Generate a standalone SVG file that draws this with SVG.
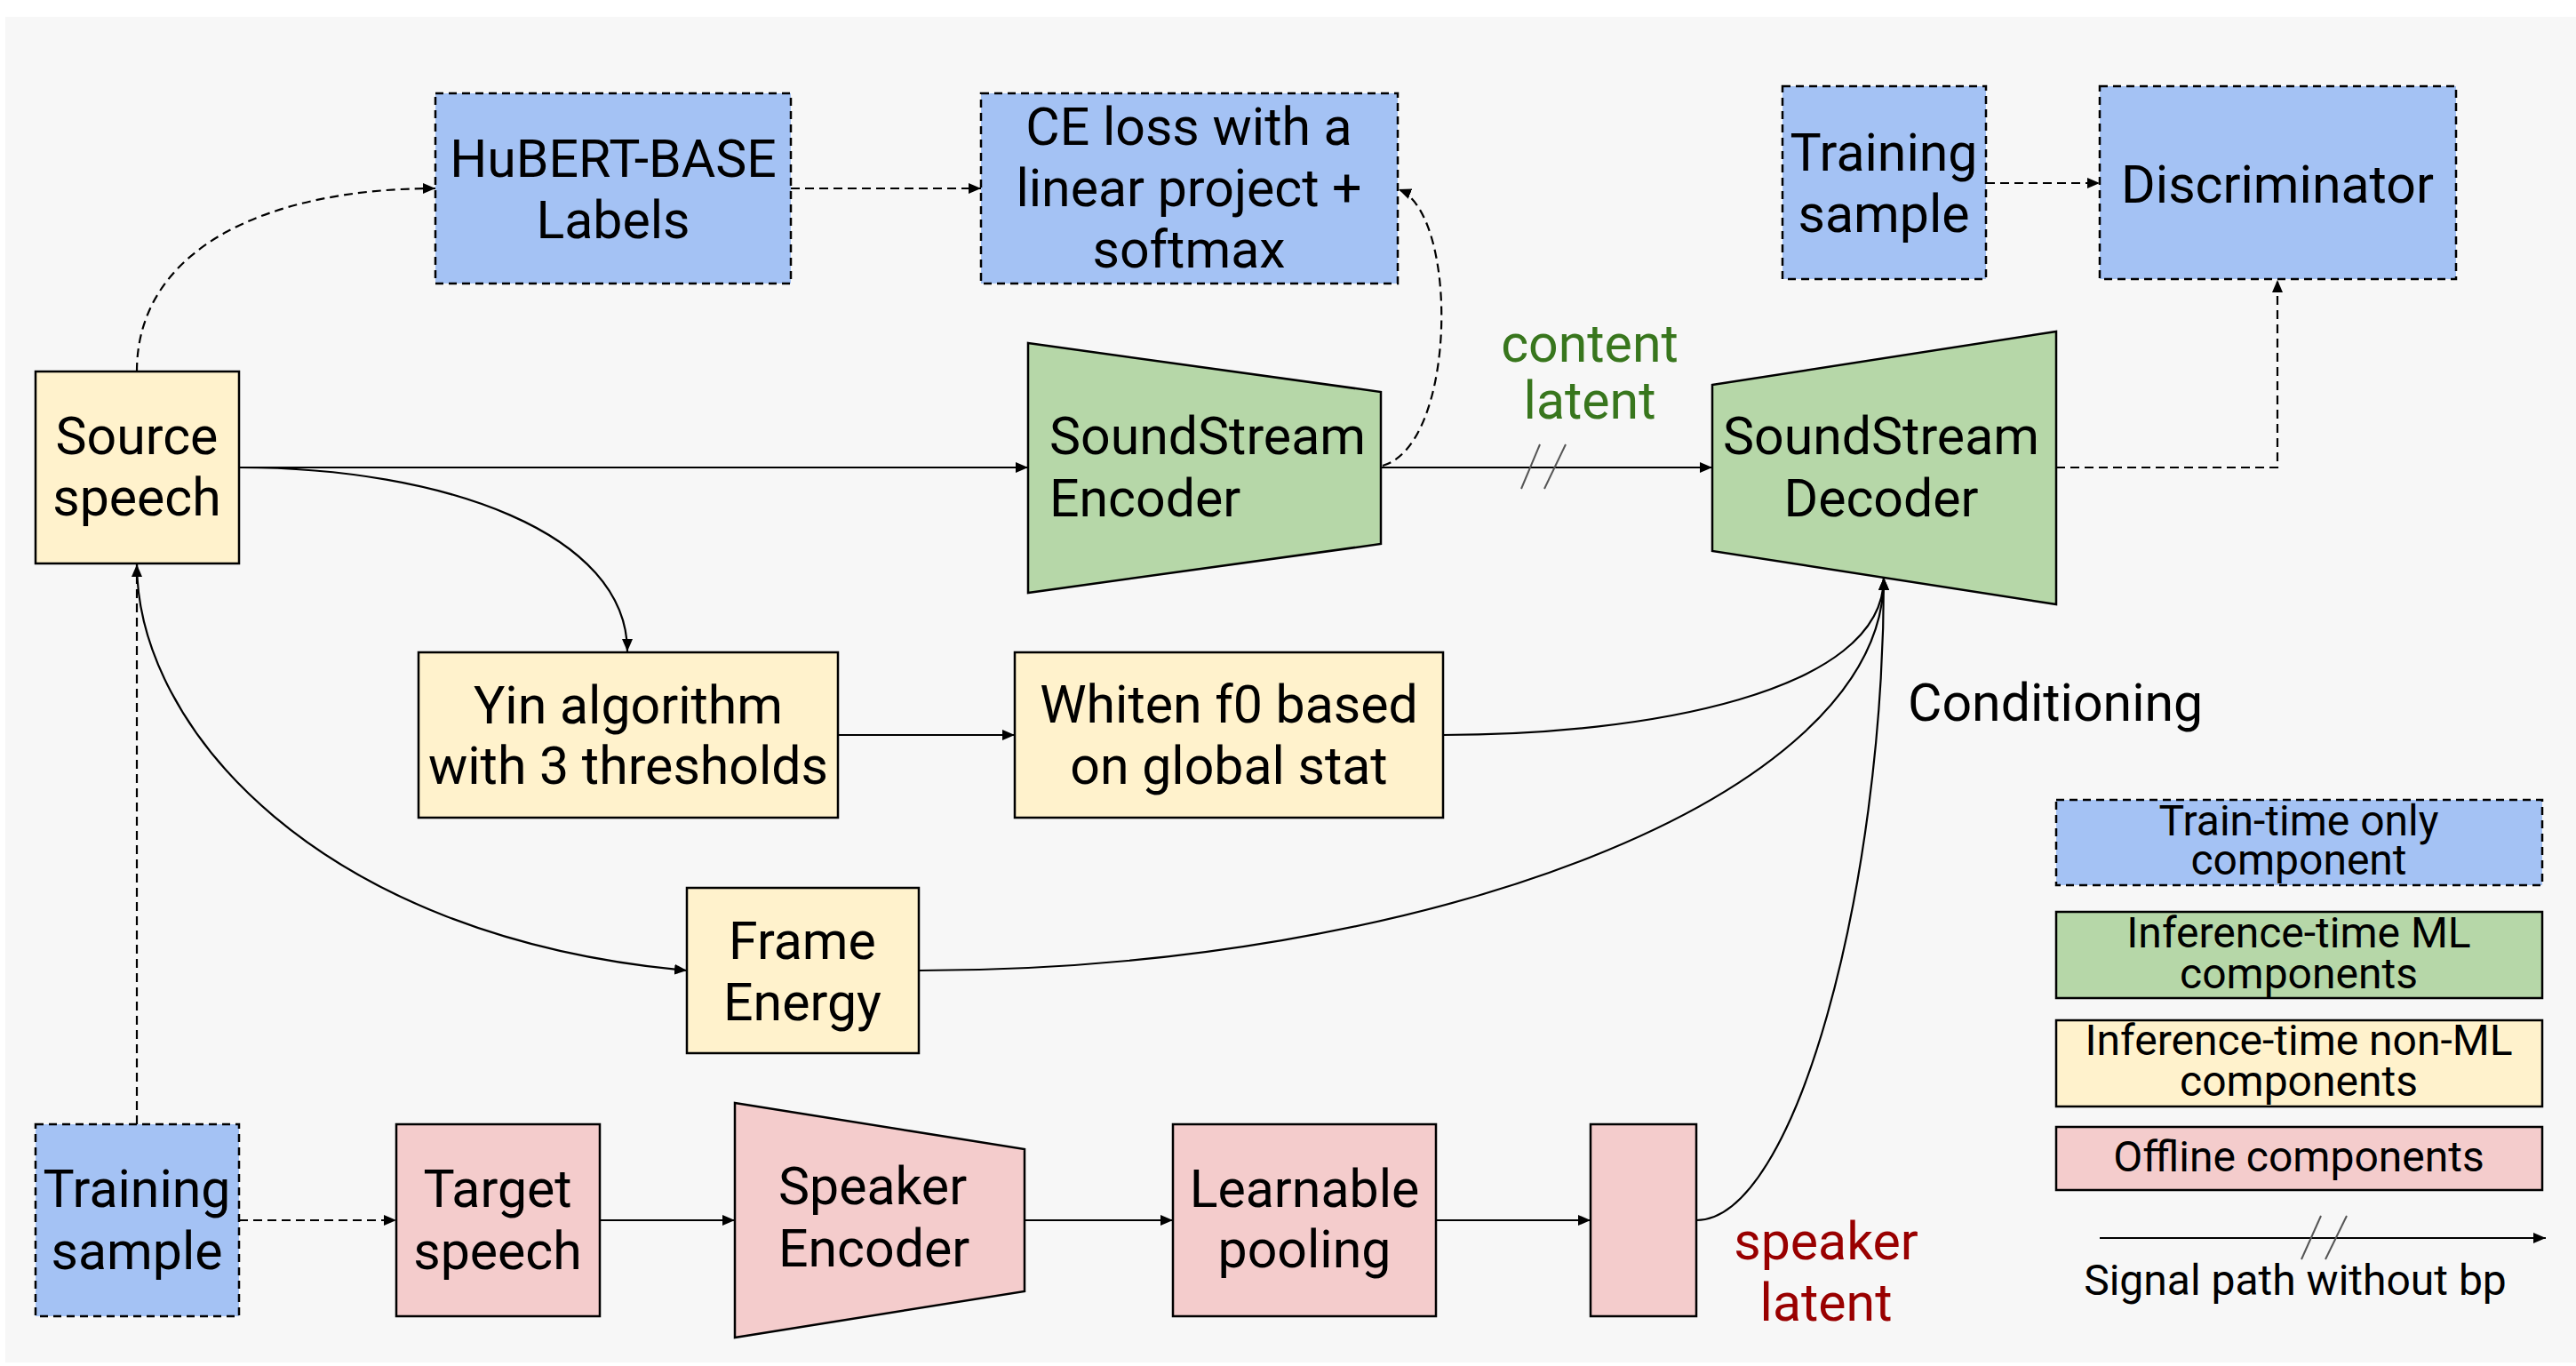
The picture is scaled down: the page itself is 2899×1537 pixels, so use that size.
<svg xmlns="http://www.w3.org/2000/svg" width="2899" height="1537" viewBox="0 0 2899 1537">
<defs>
<marker id="ah" markerUnits="userSpaceOnUse" markerWidth="16" markerHeight="12" refX="14" refY="6" orient="auto">
<path d="M0,0 L14,6 L0,12 z" fill="#000"/>
</marker>
<style>
.bx{stroke:#000;stroke-width:2.5}
.dsh{stroke-dasharray:9 6}
.blue{fill:#a4c2f4}
.green{fill:#b6d7a8}
.yel{fill:#fff2cc}
.pink{fill:#f4cccc}
.t{font-family:Roboto,"Liberation Sans",sans-serif;font-size:59px;fill:#000}
.lg{font-family:Roboto,"Liberation Sans",sans-serif;font-size:48px;fill:#000;text-anchor:middle}
.c{text-anchor:middle}
.ln{fill:none;stroke:#000;stroke-width:2.2}
.dl{fill:none;stroke:#000;stroke-width:2.2;stroke-dasharray:10 6}
.sl{stroke:#555;stroke-width:2}
</style>
</defs>
<rect x="0" y="0" width="2899" height="1537" fill="#fff"/>
<rect x="6" y="19" width="2893" height="1514" fill="#f7f7f7"/>

<g id="connectors">
<path class="ln" d="M269,526 L1157,526" marker-end="url(#ah)"/>
<path class="ln" d="M1554,526 L1927,526" marker-end="url(#ah)"/>
<line class="sl" x1="1712" y1="550" x2="1733" y2="500"/>
<line class="sl" x1="1738" y1="550" x2="1762" y2="500"/>
<path class="dl" d="M154,418 C154,280 300,212 490,212" marker-end="url(#ah)"/>
<path class="dl" d="M890,212 L1104,212" marker-end="url(#ah)"/>
<path class="dl" d="M1556,524 C1640,500 1642,240 1574,213" marker-end="url(#ah)"/>
<path class="dl" d="M2235,206 L2363,206" marker-end="url(#ah)"/>
<path class="dl" d="M2314,526 L2563,526 L2563,315" marker-end="url(#ah)"/>
<path class="ln" d="M269,526 C500,526 706,600 706,733" marker-end="url(#ah)"/>
<path class="ln" d="M943,827 L1142,827" marker-end="url(#ah)"/>
<path class="ln" d="M154,634 C154,820 360,1055 773,1092" marker-end="url(#ah)"/>
<path class="ln" d="M1624,827 C1850,827 2120,780 2120,650" marker-end="url(#ah)"/>
<path class="ln" d="M1034,1092 C1600,1092 2120,900 2120,650" marker-end="url(#ah)"/>
<path class="ln" d="M1909,1373 C2020,1373 2120,1000 2120,650" marker-end="url(#ah)"/>
<path class="dl" d="M154,1265 L154,635" marker-end="url(#ah)"/>
<path class="dl" d="M269,1373 L446,1373" marker-end="url(#ah)"/>
<path class="ln" d="M675,1373 L827,1373" marker-end="url(#ah)"/>
<path class="ln" d="M1153,1373 L1320,1373" marker-end="url(#ah)"/>
<path class="ln" d="M1616,1373 L1790,1373" marker-end="url(#ah)"/>
</g>

<g id="hubert">
<rect class="bx dsh blue" x="490" y="105" width="400" height="214"/>
<text class="t c" x="690" y="199">HuBERT-BASE</text>
<text class="t c" x="690" y="268">Labels</text>
</g>
<g id="ce-loss">
<rect class="bx dsh blue" x="1104" y="105" width="469" height="214"/>
<text class="t c" x="1338" y="163">CE loss with a</text>
<text class="t c" x="1338" y="232">linear project +</text>
<text class="t c" x="1338" y="301">softmax</text>
</g>
<g id="training-sample-top">
<rect class="bx dsh blue" x="2006" y="97" width="229" height="217"/>
<text class="t c" x="2120" y="192">Training</text>
<text class="t c" x="2120" y="261">sample</text>
</g>
<g id="discriminator">
<rect class="bx dsh blue" x="2363" y="97" width="401" height="217"/>
<text class="t c" x="2563" y="228">Discriminator</text>
</g>
<g id="source-speech">
<rect class="bx yel" x="40" y="418" width="229" height="216"/>
<text class="t c" x="154" y="511">Source</text>
<text class="t c" x="154" y="580">speech</text>
</g>
<g id="soundstream-encoder">
<polygon class="bx green" points="1157,386 1554,441 1554,612 1157,667"/>
<text class="t" x="1181" y="511">SoundStream</text>
<text class="t" x="1181" y="581">Encoder</text>
</g>
<g id="content-latent-label">
<text class="t c" x="1789" y="407" style="fill:#38761d">content</text>
<text class="t c" x="1789" y="471" style="fill:#38761d">latent</text>
</g>
<g id="soundstream-decoder">
<polygon class="bx green" points="1927,433 2314,373 2314,680 1927,620"/>
<text class="t c" x="2117" y="511">SoundStream</text>
<text class="t c" x="2117" y="581">Decoder</text>
</g>
<g id="yin">
<rect class="bx yel" x="471" y="734" width="472" height="186"/>
<text class="t c" x="707" y="814">Yin algorithm</text>
<text class="t c" x="707" y="882">with 3 thresholds</text>
</g>
<g id="whiten">
<rect class="bx yel" x="1142" y="734" width="482" height="186"/>
<text class="t c" x="1383" y="813">Whiten f0 based</text>
<text class="t c" x="1383" y="882">on global stat</text>
</g>
<g id="conditioning-label">
<text class="t" x="2147" y="811">Conditioning</text>
</g>
<g id="frame-energy">
<rect class="bx yel" x="773" y="999" width="261" height="186"/>
<text class="t c" x="903" y="1079">Frame</text>
<text class="t c" x="903" y="1148">Energy</text>
</g>
<g id="training-sample-bottom">
<rect class="bx dsh blue" x="40" y="1265" width="229" height="216"/>
<text class="t c" x="154" y="1358">Training</text>
<text class="t c" x="154" y="1428">sample</text>
</g>
<g id="target-speech">
<rect class="bx pink" x="446" y="1265" width="229" height="216"/>
<text class="t c" x="560" y="1358">Target</text>
<text class="t c" x="560" y="1428">speech</text>
</g>
<g id="speaker-encoder">
<polygon class="bx pink" points="827,1241 1153,1293 1153,1453 827,1505"/>
<text class="t" x="876" y="1355">Speaker</text>
<text class="t" x="876" y="1425">Encoder</text>
</g>
<g id="learnable-pooling">
<rect class="bx pink" x="1320" y="1265" width="296" height="216"/>
<text class="t c" x="1468" y="1358">Learnable</text>
<text class="t c" x="1468" y="1426">pooling</text>
</g>
<g id="speaker-latent">
<rect class="bx pink" x="1790" y="1265" width="119" height="216"/>
<text class="t c" x="2055" y="1417" style="fill:#990000">speaker</text>
<text class="t c" x="2055" y="1486" style="fill:#990000">latent</text>
</g>

<g id="legend">
<rect class="bx dsh blue" x="2314" y="900" width="547" height="96"/>
<text class="lg" x="2587" y="940">Train-time only</text>
<text class="lg" x="2587" y="984">component</text>
<rect class="bx green" x="2314" y="1026" width="547" height="97"/>
<text class="lg" x="2587" y="1066">Inference-time ML</text>
<text class="lg" x="2587" y="1112">components</text>
<rect class="bx yel" x="2314" y="1148" width="547" height="97"/>
<text class="lg" x="2587" y="1187">Inference-time non-ML</text>
<text class="lg" x="2587" y="1233">components</text>
<rect class="bx pink" x="2314" y="1268" width="547" height="71"/>
<text class="lg" x="2587" y="1318">Offline components</text>
<path class="ln" d="M2363,1393 L2865,1393" marker-end="url(#ah)"/>
<line class="sl" x1="2590" y1="1417" x2="2612" y2="1368"/>
<line class="sl" x1="2617" y1="1417" x2="2641" y2="1368"/>
<text class="lg" x="2583" y="1457">Signal path without bp</text>
</g>
</svg>
